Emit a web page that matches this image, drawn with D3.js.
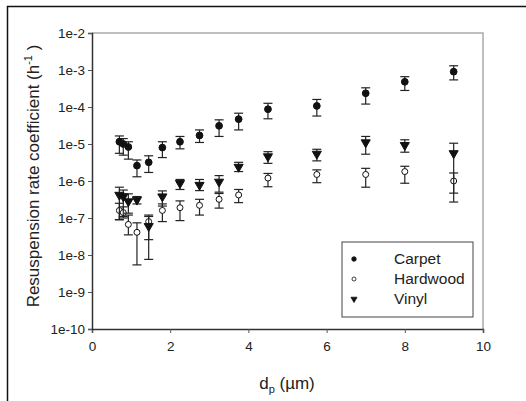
<!DOCTYPE html>
<html>
<head>
<meta charset="utf-8">
<script src="https://cdn.jsdelivr.net/npm/d3@7"></script>
<style>
body { margin: 0; background: #fff; }
text { font-family: "Liberation Sans", Arial, sans-serif; fill: #222; }
</style>
</head>
<body>
<svg></svg>
<script>
var width = 526,
    height = 401;

// particle diameter bins (um)
var dp = [0.7, 0.8, 0.93, 1.15, 1.45, 1.8, 2.25, 2.75, 3.25, 3.75, 4.5, 5.75, 7.0, 8.0, 9.25];

var carpet   = [1.15e-5, 1.0e-5, 8.3e-6, 2.6e-6, 3.2e-6, 8.0e-6, 1.15e-5, 1.7e-5, 3.1e-5, 4.7e-5, 8.7e-5, 1.07e-4, 2.35e-4, 4.8e-4, 9.0e-4];
var carpetHi = [1.65e-5, 1.4e-5, 1.15e-5, 3.7e-6, 4.8e-6, 1.15e-5, 1.6e-5, 2.4e-5, 4.5e-5, 6.8e-5, 1.26e-4, 1.6e-4, 3.3e-4, 6.6e-4, 1.3e-3];
var carpetLo = [5.6e-6, 5.0e-6, 3.9e-6, 1.3e-6, 1.7e-6, 4.3e-6, 7.4e-6, 1.1e-5, 1.6e-5, 2.4e-5, 4.8e-5, 5.7e-5, 1.2e-4, 2.8e-4, 5.4e-4];

var hardwood   = [1.6e-7, 1.4e-7, 6.7e-8, 4.1e-8, 8.0e-8, 1.6e-7, 1.9e-7, 2.2e-7, 3.2e-7, 4.2e-7, 1.2e-6, 1.5e-6, 1.5e-6, 1.8e-6, 1.0e-6];
var hardwoodHi = [2.5e-7, 2.0e-7, 1.2e-7, 7.4e-8, 1.2e-7, 2.4e-7, 2.9e-7, 3.2e-7, 4.6e-7, 5.9e-7, 1.6e-6, 2.0e-6, 2.2e-6, 2.5e-6, 1.65e-6];
var hardwoodLo = [9.0e-8, 1.0e-7, 3.5e-8, 5.4e-9, 2.6e-8, 8.0e-8, 8.5e-8, 1.2e-7, 1.85e-7, 2.6e-7, 7.0e-7, 9.0e-7, 6.8e-7, 8.7e-7, 4.7e-7];

var vinyl   = [4.2e-7, 3.8e-7, 2.8e-7, 3.1e-7, 6.0e-8, 3.8e-7, 8.7e-7, 7.8e-7, 9.5e-7, 2.4e-6, 4.6e-6, 5.4e-6, 1.1e-5, 9.3e-6, 5.6e-6];
var vinylHi = [6.8e-7, 5.7e-7, 4.5e-7, 3.8e-7, 1.1e-7, 5.4e-7, 1.1e-6, 1.1e-6, 1.4e-6, 3.2e-6, 6.2e-6, 7.2e-6, 1.6e-5, 1.3e-5, 1.05e-5];
var vinylLo = [9.0e-8, 1.1e-7, 1.35e-7, 2.4e-7, 7.6e-9, 2.1e-7, 5.9e-7, 5.5e-7, 5.0e-7, 1.8e-6, 3.0e-6, 3.5e-6, 5.3e-6, 6.0e-6, 2.7e-7];

var xTicks = [0, 2, 4, 6, 8, 10];
var yTicks = [1e-10, 1e-9, 1e-8, 1e-7, 1e-6, 1e-5, 1e-4, 1e-3, 1e-2];
var yTickLabels = ["1e-10", "1e-9", "1e-8", "1e-7", "1e-6", "1e-5", "1e-4", "1e-3", "1e-2"];
var seriesNames = ["Carpet", "Hardwood", "Vinyl"];

var svg = d3.select("svg")
    .attr("width", width)
    .attr("height", height);

// outer frame (only left and top edges show in the picture)
svg.append("path")
    .attr("d", "M7.5," + height + " V6.5 H" + width)
    .attr("fill", "none")
    .attr("stroke", "#111")
    .attr("stroke-width", 1.5);

var pLeft = 92, pRight = 483, pTop = 33, pBottom = 329;

var x = d3.scaleLinear().domain([0, 10]).range([pLeft, pRight]);
var y = d3.scaleLog().domain([1e-10, 1e-2]).range([pBottom, pTop]);

// plot box: grey top/right
svg.append("path")
    .attr("d", "M" + pLeft + "," + pTop + " H" + pRight + " V" + pBottom)
    .attr("fill", "none")
    .attr("stroke", "#aaa")
    .attr("stroke-width", 1.5);

////////////////////////
// axes
////////////////////////

var xAxis = svg.append("g")
    .attr("transform", "translate(0," + pBottom + ")")
    .call(d3.axisBottom(x).tickValues(xTicks).tickSize(4).tickPadding(8).tickFormat(d3.format("d")));

var yAxis = svg.append("g")
    .attr("transform", "translate(" + pLeft + ",0)")
    .call(d3.axisLeft(y).tickValues(yTicks).tickSize(4).tickPadding(3)
        .tickFormat(function(d, i) { return yTickLabels[i]; }));

[xAxis, yAxis].forEach(function(a) {
    a.select(".domain").attr("stroke", "#333").attr("stroke-width", 1.5);
    a.selectAll(".tick line").attr("stroke", "#555");
    a.selectAll("text")
        .attr("fill", "#1a1a1a")
        .style("font-family", "'Liberation Sans', Arial, sans-serif")
        .style("font-size", "13.5px");
});

// axis titles
var xt = svg.append("text")
    .attr("x", 287)
    .attr("y", 389)
    .attr("text-anchor", "middle")
    .style("font-size", "17px");
xt.append("tspan").text("d");
xt.append("tspan").attr("dy", 4).style("font-size", "11px").text("p");
xt.append("tspan").attr("dy", -4).text(" (\u00b5m)");

var yt = svg.append("text")
    .attr("transform", "translate(39," + 176 + ") rotate(-90)")
    .attr("text-anchor", "middle")
    .style("font-size", "17px");
yt.append("tspan").text("Resuspension rate coefficient (h");
yt.append("tspan").attr("dy", -7).style("font-size", "11px").text("-1");
yt.append("tspan").attr("dy", 7).text(" )");

////////////////////////
// error bars + markers
////////////////////////

function markerPath(kind, s) {
    if (kind == "tri") return d3.symbol().type(d3.symbolTriangle).size(36 * s)();
    return d3.symbol().type(d3.symbolCircle).size((kind == "open" ? 28 : 36) * s)();
}

function drawSeries(vals, hi, lo, kind) {
    var g = svg.append("g");
    var rows = dp.map(function(d, i) { return {x: d, v: vals[i], hi: hi[i], lo: lo[i]}; });

    var eb = g.selectAll(".eb")
        .data(rows)
        .enter()
        .append("g")
        .attr("stroke", "#222")
        .attr("stroke-width", 1.2);
    eb.append("line")
        .attr("x1", function(d) { return x(d.x); })
        .attr("x2", function(d) { return x(d.x); })
        .attr("y1", function(d) { return y(d.hi); })
        .attr("y2", function(d) { return y(d.lo); });
    eb.append("line")
        .attr("x1", function(d) { return x(d.x) - 4.5; })
        .attr("x2", function(d) { return x(d.x) + 4.5; })
        .attr("y1", function(d) { return y(d.hi); })
        .attr("y2", function(d) { return y(d.hi); });
    eb.append("line")
        .attr("x1", function(d) { return x(d.x) - 4.5; })
        .attr("x2", function(d) { return x(d.x) + 4.5; })
        .attr("y1", function(d) { return y(d.lo); })
        .attr("y2", function(d) { return y(d.lo); });

    g.selectAll(".mk")
        .data(rows)
        .enter()
        .append("path")
        .attr("transform", function(d) {
            return "translate(" + x(d.x) + "," + y(d.v) + ")" + (kind == "tri" ? " rotate(180)" : "");
        })
        .attr("d", markerPath(kind, 1))
        .attr("fill", kind == "open" ? "#fff" : "#111")
        .attr("stroke", "#111")
        .attr("stroke-width", 1);
}

drawSeries(hardwood, hardwoodHi, hardwoodLo, "open");
drawSeries(vinyl, vinylHi, vinylLo, "tri");
drawSeries(carpet, carpetHi, carpetLo, "dot");

////////////////////////
// legend
////////////////////////

var legend = svg.append("g").attr("transform", "translate(342,242)");
legend.append("rect")
    .attr("width", 131)
    .attr("height", 75)
    .attr("fill", "#fff")
    .attr("stroke", "#444")
    .attr("stroke-width", 1);

var kinds = ["dot", "open", "tri"];
var ly = d3.scalePoint().domain(seriesNames).range([17, 57]);

legend.selectAll(".lm")
    .data(seriesNames)
    .enter()
    .append("path")
    .attr("transform", function(d, i) {
        return "translate(12," + ly(d) + ")" + (kinds[i] == "tri" ? " rotate(180)" : "");
    })
    .attr("d", function(d, i) { return markerPath(kinds[i], 0.45); })
    .attr("fill", function(d, i) { return kinds[i] == "open" ? "#fff" : "#111"; })
    .attr("stroke", "#111")
    .attr("stroke-width", 0.8);

legend.selectAll(".lt")
    .data(seriesNames)
    .enter()
    .append("text")
    .attr("x", 52)
    .attr("y", function(d) { return ly(d); })
    .attr("dy", "0.35em")
    .style("font-size", "15.5px")
    .text(function(d) { return d; });
</script>
</body>
</html>
